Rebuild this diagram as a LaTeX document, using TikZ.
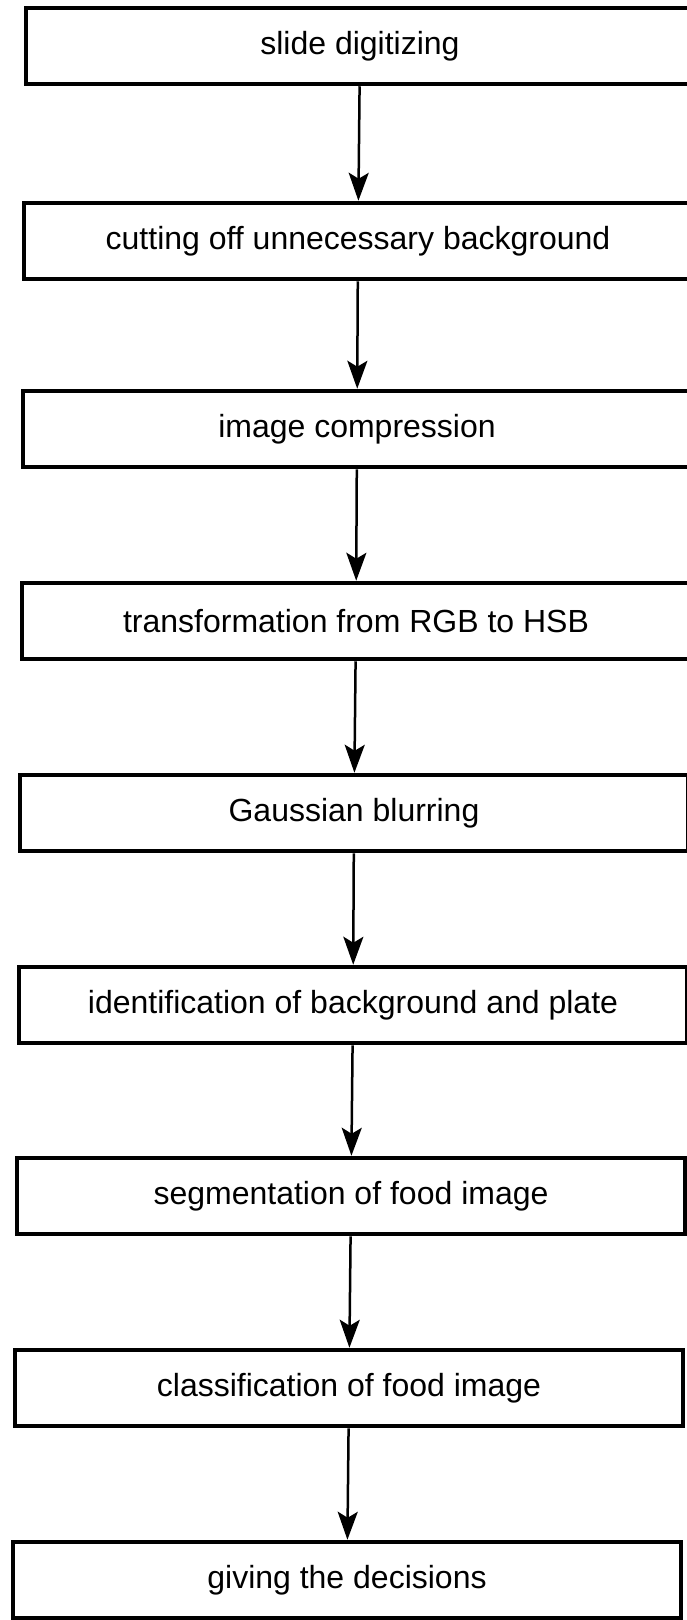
\documentclass[tikz,border=0pt]{standalone}
\usepackage{fontspec}
\setmainfont{Liberation Sans}
\usetikzlibrary{arrows.meta}
\tikzset{
    stage/.style={draw,line width=4.5pt,minimum width=668pt,minimum height=76pt,
      inner sep=0pt,font=\fontsize{32}{36}\selectfont},
    flow/.style={-{Stealth[length=28pt,width=20pt,inset=6pt]},line width=2.5pt}
}
\begin{document}
\begin{tikzpicture}[x=1pt,y=-1pt]
    \useasboundingbox (0,0) rectangle (686,1620);
    \node [stage] (dig) at (360,46) {slide digitizing};
    \node [stage] (cut) at (358,241) {cutting off unnecessary background};
    \node [stage] (comp) at (357,429) {image compression};
    \node [stage] (hsb) at (356,621) {transformation from RGB to HSB};
    \node [stage] (blur) at (354,813) {Gaussian blurring};
    \node [stage] (plate) at (353,1005) {identification of background and plate};
    \node [stage] (seg) at (351,1196) {segmentation of food image};
    \node [stage] (cls) at (349,1388) {classification of food image};
    \node [stage] (dec) at (347,1580) {giving the decisions};
    \draw [flow] (dig) -- (cut);
    \draw [flow] (cut) -- (comp);
    \draw [flow] (comp) -- (hsb);
    \draw [flow] (hsb) -- (blur);
    \draw [flow] (blur) -- (plate);
    \draw [flow] (plate) -- (seg);
    \draw [flow] (seg) -- (cls);
    \draw [flow] (cls) -- (dec);
\end{tikzpicture}
\end{document}
